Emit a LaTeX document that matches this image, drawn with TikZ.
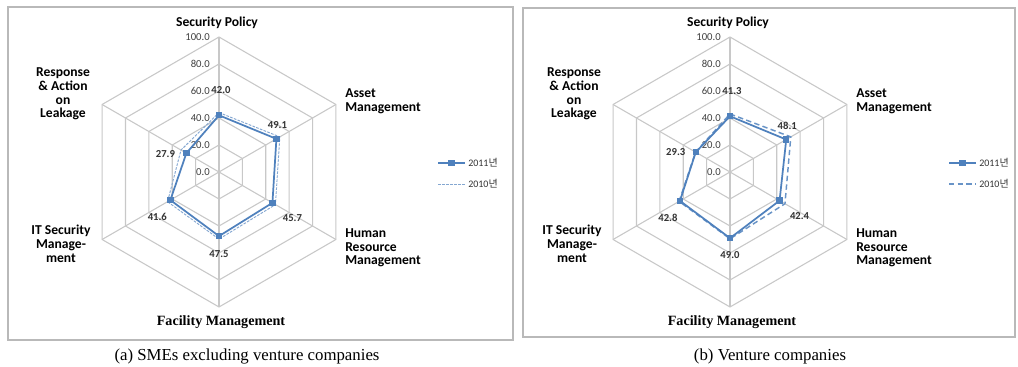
\documentclass[tikz,border=0pt]{standalone}
\usepackage{fontspec}
\setmainfont{Liberation Serif}
\newfontfamily\chartfont{Carlito}
\newfontfamily\krfont{Noto Sans CJK KR}

\definecolor{seriesblue}{RGB}{79,129,189}
\definecolor{gridgray}{RGB}{200,200,200}
\definecolor{framegray}{RGB}{185,185,185}

\tikzset{
  chart frame/.style={draw=framegray, line width=0.9pt},
  grid line/.style={draw=gridgray, line width=0.8pt},
  axis label/.style={font=\chartfont\bfseries\fontsize{10.2}{10.3}\selectfont, inner sep=0pt},
  facility label/.style={font=\bfseries\fontsize{10.6}{12}\selectfont, inner sep=0pt},
  tick label/.style={font=\chartfont\fontsize{8}{9}\selectfont, text=black!75, inner sep=0pt, anchor=east},
  value label/.style={font=\chartfont\bfseries\fontsize{8}{9}\selectfont, text=black!80, inner sep=0pt},
  series new/.style={draw=seriesblue, line width=1.3pt, line join=round},
  series old/.style={draw=seriesblue!70, line width=0.7pt, dash pattern=on 2pt off 1pt},
  series old b/.style={draw=seriesblue!85, line width=1.1pt, dash pattern=on 4pt off 2.5pt},
  point mark/.style={fill=seriesblue, draw=none, minimum size=4.8pt, inner sep=0pt},
  legend text/.style={font=\chartfont\fontsize{7.5}{8}\selectfont, text=black!80, anchor=west, inner sep=0pt},
  caption/.style={font=\fontsize{12.6}{14}\selectfont, inner sep=0pt}
}

% radar chart: #1 name prefix, #2 new values, #3 old values, #4 old style
\newcommand\radarchart[4]{%
  % hexagon grid
  \foreach \lvl in {27,54,...,135}
    \draw[grid line] (90:\lvl) \foreach \ang in {30,-30,...,-210} { -- (\ang:\lvl) } -- cycle;
  \foreach \ang in {90,30,...,-210}
    \draw[grid line] (0,0) -- (\ang:135);
  % scale
  \foreach \val [count=\k from 0] in {0.0,20.0,40.0,60.0,80.0,100.0}
    \node[tick label] (#1-tick\k) at (-9,27*\k) {\val};
  % series
  \draw[#4] \foreach \v [count=\k from 0] in {#3} { \ifnum\k=0 (90-60*\k:1.35*\v) \else -- (90-60*\k:1.35*\v) \fi } -- cycle;
  \draw[series new] \foreach \v [count=\k from 0] in {#2} { \ifnum\k=0 (90-60*\k:1.35*\v) \else -- (90-60*\k:1.35*\v) \fi } -- cycle;
  \foreach \v [count=\k from 0] in {#2}
    \node[point mark] (#1-pt\k) at (90-60*\k:1.35*\v) {};
  % axis titles
  \node[axis label] (#1-sp) at (-2,149) {Security Policy};
  \node[axis label, anchor=west, align=left] (#1-am) at (126,71) {Asset\\Management};
  \node[axis label, anchor=west, align=left] (#1-hrm) at (126,-76) {Human\\Resource\\Management};
  \node[facility label] (#1-fm) at (2,-150) {Facility Management};
  \node[axis label, align=center] (#1-itsm) at (-158,-72) {IT Security\\Manage-\\ment};
  \node[axis label, align=center] (#1-ral) at (-156,78) {Response\\\& Action\\on\\Leakage};
  % legend
  \coordinate (#1-leg1a) at (219,9);
  \coordinate (#1-leg1b) at (246,9);
  \coordinate (#1-leg2a) at (219,-12);
  \coordinate (#1-leg2b) at (246,-12);
  \draw[series new] (#1-leg1a) -- (#1-leg1b) node[point mark, midway] (#1-legpt) {};
  \draw[#4] (#1-leg2a) -- (#1-leg2b);
  \node[legend text] (#1-leg1) at (249,9) {2011{\krfont 년}};
  \node[legend text] (#1-leg2) at (249,-12) {2010{\krfont 년}};
}

\begin{document}
\begin{tikzpicture}[x=0.75pt, y=0.75pt]
\useasboundingbox (0,0) rectangle (1018,367);
\fill[white] (0,0) rectangle (1018,367);

% frames
\draw[chart frame] (8,27) rectangle (513,360);
\draw[chart frame] (523,30) rectangle (1015,359);

% (a) SMEs excluding venture companies
\begin{scope}[shift={(219,195)}]
  \radarchart{a}{42.0,49.1,45.7,47.5,41.6,27.9}{44,52,48.3,49.7,44,32.5}{series old}
  \node[value label] (a-val0) at ([shift={(2,25)}]a-pt0) {42.0};
  \node[value label] (a-val1) at ([shift={(1,14)}]a-pt1) {49.1};
  \node[value label] (a-val2) at ([shift={(20,-15)}]a-pt2) {45.7};
  \node[value label] (a-val3) at ([shift={(0,-18)}]a-pt3) {47.5};
  \node[value label] (a-val4) at ([shift={(-13,-17)}]a-pt4) {41.6};
  \node[value label] (a-val5) at ([shift={(-21,-1)}]a-pt5) {27.9};
\end{scope}

% (b) Venture companies
\begin{scope}[shift={(730,195)}]
  \radarchart{b}{41.3,48.1,42.4,49.0,42.8,29.3}{43,52,47,49.5,43.5,29.5}{series old b}
  \node[value label] (b-val0) at ([shift={(2,25)}]b-pt0) {41.3};
  \node[value label] (b-val1) at ([shift={(1,14)}]b-pt1) {48.1};
  \node[value label] (b-val2) at ([shift={(20,-15)}]b-pt2) {42.4};
  \node[value label] (b-val3) at ([shift={(0,-17)}]b-pt3) {49.0};
  \node[value label] (b-val4) at ([shift={(-12,-17)}]b-pt4) {42.8};
  \node[value label] (b-val5) at ([shift={(-20,0)}]b-pt5) {29.3};
\end{scope}

% captions
\node[caption] (capa) at (247,11) {(a) SMEs excluding venture companies};
\node[caption] (capb) at (770,11) {(b) Venture companies};
\end{tikzpicture}
\end{document}
